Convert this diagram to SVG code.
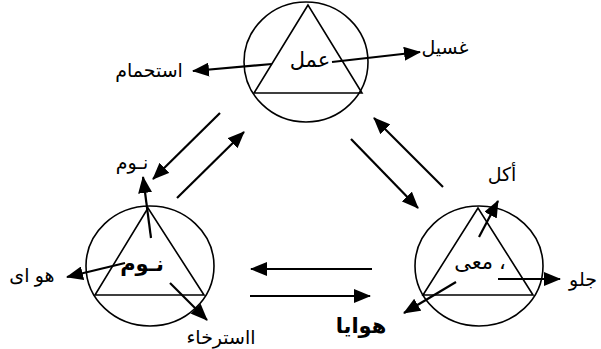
<svg xmlns="http://www.w3.org/2000/svg" width="601" height="349" viewBox="0 0 601 349">
<style>
.shape{fill:none;stroke:#000;stroke-width:1.6}
.arr{fill:none;stroke:#000;stroke-width:2.2;marker-end:url(#ah)}
text{font-family:"Liberation Sans","DejaVu Sans",sans-serif;font-size:19px;fill:#000;text-anchor:middle}
.b{font-weight:bold}
.in{font-size:21px}
</style>
<defs>
<marker id="ah" markerUnits="userSpaceOnUse" markerWidth="17" markerHeight="14" refX="16" refY="7" orient="auto">
<path d="M0,0 L17,7 L0,14 z" fill="#000"/>
</marker>
</defs>
<rect width="601" height="349" fill="#fff"/>
<g id="node-top">
<ellipse class="shape" cx="306" cy="62" rx="62" ry="60"/>
<polygon class="shape" points="308,5 254,93 362,93"/>
<text class="in" x="310" y="67">عمل</text>
<line class="arr" x1="272" y1="64" x2="193" y2="71"/>
<line class="arr" x1="332" y1="62" x2="420" y2="52"/>
<text x="149" y="77">استحمام</text>
<text x="445" y="54">غسيل</text>
</g>
<g id="node-left">
<ellipse class="shape" cx="150" cy="266" rx="64" ry="60"/>
<polygon class="shape" points="148,208 95,295 204,295"/>
<text class="b in" x="142" y="271">نـوم</text>
<line class="arr" x1="151" y1="238" x2="143" y2="177"/>
<line class="arr" x1="125" y1="263" x2="67" y2="277"/>
<line class="arr" x1="170" y1="283" x2="207" y2="320"/>
<text x="132" y="169">نـوم</text>
<text x="32" y="282">هو ای</text>
<text x="221" y="344">ااسترخاء</text>
</g>
<g id="node-right">
<ellipse class="shape" cx="479" cy="266" rx="64" ry="60"/>
<polygon class="shape" points="478,208 423,295 533,295"/>
<text class="in" x="480" y="269">معی ،</text>
<line class="arr" x1="479" y1="237" x2="498" y2="201"/>
<line class="arr" x1="498" y1="279" x2="560" y2="279"/>
<line class="arr" x1="456" y1="282" x2="404" y2="313"/>
<text x="502" y="181">أكل</text>
<text x="583" y="286">جلو</text>
<text class="b in" x="361" y="333">هوايا</text>
</g>
<g id="connectors">
<line class="arr" x1="220" y1="113" x2="153" y2="179"/>
<line class="arr" x1="177" y1="198" x2="244" y2="132"/>
<line class="arr" x1="443" y1="187" x2="374" y2="118"/>
<line class="arr" x1="351" y1="139" x2="418" y2="208"/>
<line class="arr" x1="372" y1="269" x2="251" y2="269"/>
<line class="arr" x1="250" y1="296" x2="370" y2="296"/>
</g>
</svg>
